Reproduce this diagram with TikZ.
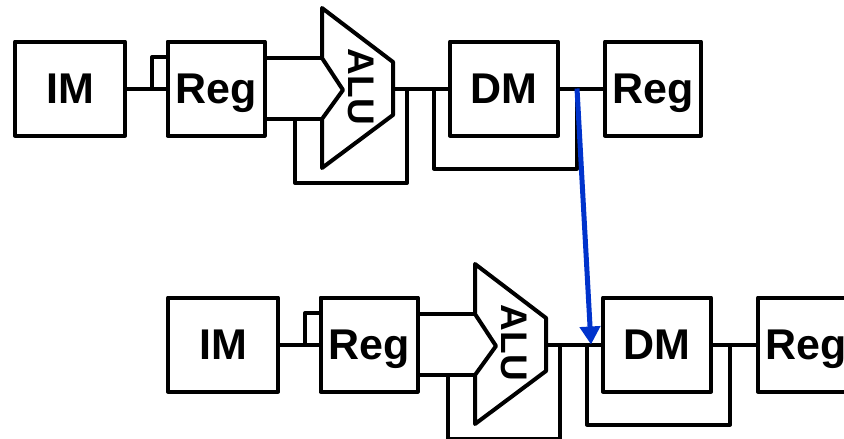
\documentclass[tikz,border=0pt]{standalone}
\usepackage{fontspec}
\setmainfont{Liberation Sans}
\usetikzlibrary{arrows.meta}
\definecolor{fwdblue}{RGB}{0,51,204}
\tikzset{
	wire/.style={line width=4pt, line join=round},
	unit/.style={draw, line width=4pt, line join=round, minimum height=94pt, text depth=0pt,
		font=\fontsize{43}{43}\selectfont\bfseries},
}
\begin{document}
\begin{tikzpicture}[x=1pt, y=-1pt]
			\useasboundingbox (0,0) rectangle (844,439);
			\foreach \r/\dx/\dy in {t/0/0, b/153/256} {
				\begin{scope}[shift={(\dx,\dy)}]
					\node[unit, minimum width=110pt] (\r-im) at (70,88.5) {IM};
					\node[unit, minimum width=97pt] (\r-reg) at (216,88.5) {Reg};
					\node[unit, minimum width=108pt] (\r-dm) at (504,88.5) {DM};
					\node[unit, minimum width=96pt] (\r-wb) at (653,88.5) {Reg};
					% alu outline and its ports
					\draw[wire] (322,8) -- (393,62) -- (393,115) -- (322,168) -- (322,119)
						-- (343,90) -- (322,58) -- cycle;
					\node[rotate=-90, font=\fontsize{37}{37}\selectfont\bfseries] (\r-alu) at (361,87) {ALU};
					\coordinate (\r-ain1) at (322,58);
					\coordinate (\r-ain2) at (322,119);
					\coordinate (\r-aout) at (393,88.5);
					\coordinate (\r-split) at (152,88.5);
					\coordinate (\r-afb) at (295,119);
					\coordinate (\r-atap) at (407,88.5);
					\coordinate (\r-dtap) at (434,88.5);
					\coordinate (\r-wtap) at (577,88.5);
					\draw[wire] (\r-im.east) -- (\r-reg.west);
					\draw[wire] (\r-split) |- ([yshift=31.5pt]\r-reg.west);
					\draw[wire] (\r-reg.east |- \r-ain1) -- (\r-ain1);
					\draw[wire] (\r-reg.east |- \r-ain2) -- (\r-ain2);
					\draw[wire] (\r-afb) -- ++(0,64) -| (\r-atap);
					\draw[wire] (\r-aout) -- (\r-dm.west);
					\draw[wire] (\r-dtap) -- ++(0,80) -| (\r-wtap);
					\draw[wire] (\r-dm.east) -- (\r-wb.west);
				\end{scope}
			}
			\draw[fwdblue, line width=5pt, -{Triangle[width=20pt,length=18pt]}] (t-wtap) -- ([xshift=4pt]b-dtap);
		\end{tikzpicture}
\end{document}
